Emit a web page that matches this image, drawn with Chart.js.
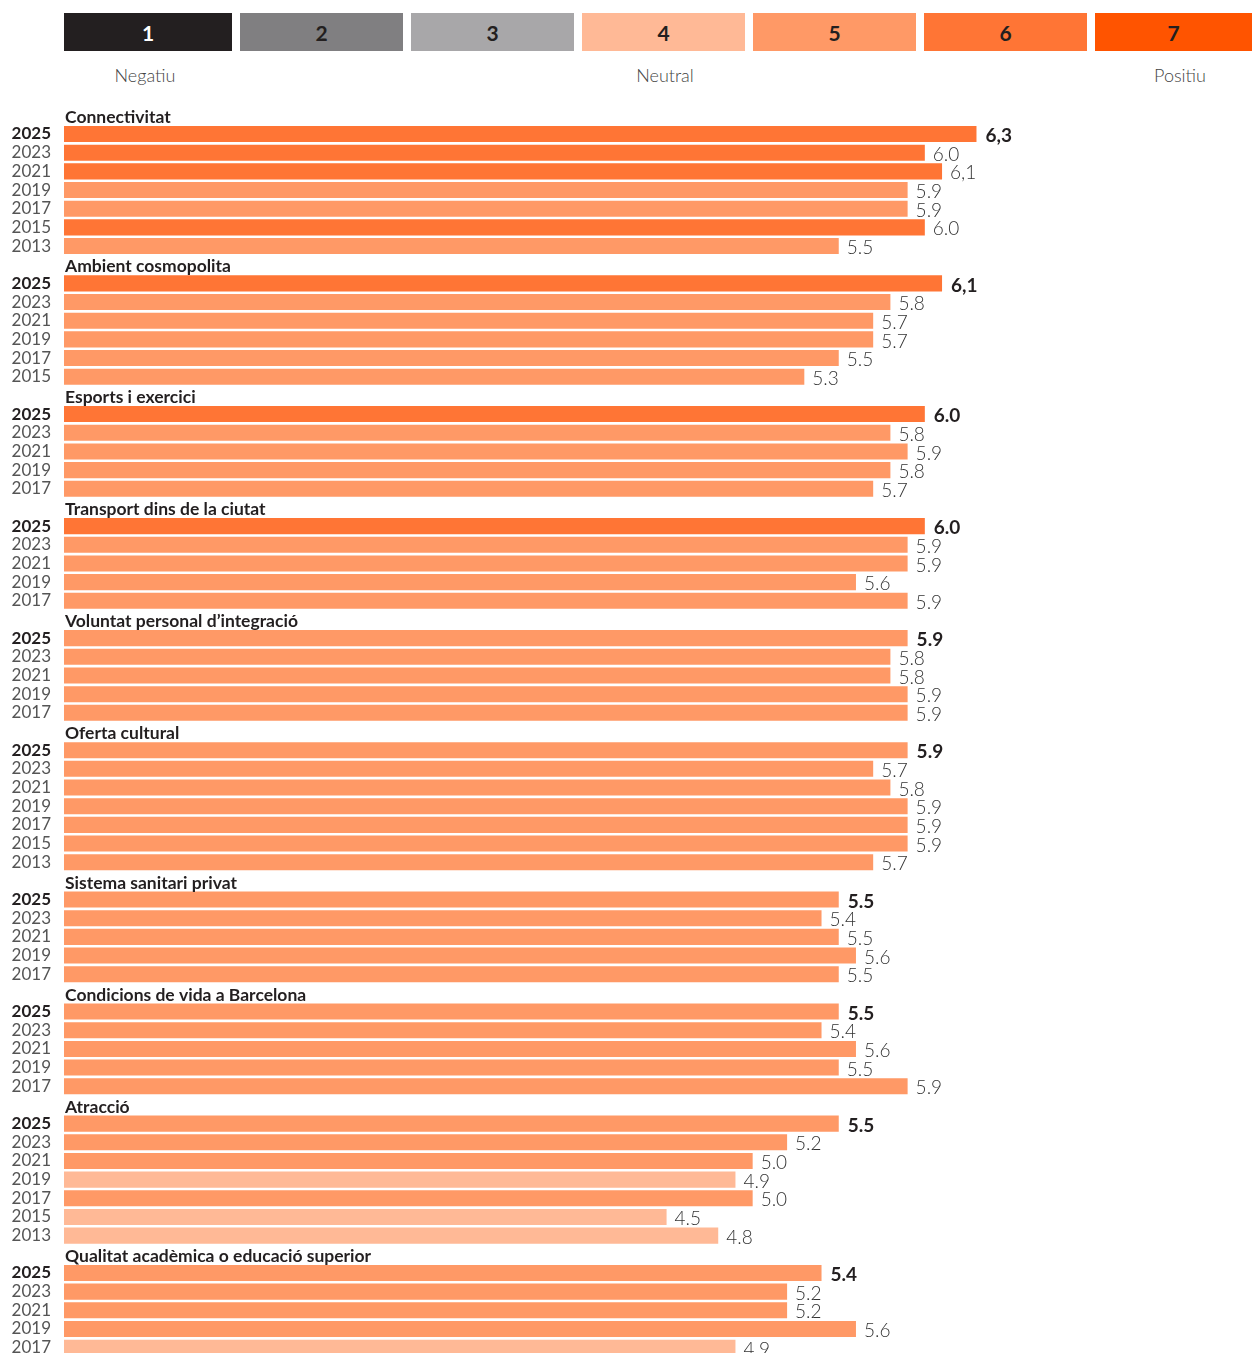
<!DOCTYPE html>
<html>
<head>
<meta charset="utf-8">
<script src="https://cdn.jsdelivr.net/npm/chart.js@4.4.1/dist/chart.umd.min.js"></script>
<style>
  html, body { margin: 0; padding: 0; background: #fff; overflow: hidden; }
  body { width: 1252px; height: 1353px; position: relative; font-family: Lato, "Noto Sans", sans-serif; }
  .scale { position: absolute; top: 13px; height: 38px; display: flex; align-items: center; justify-content: center;
           font-weight: 700; font-size: 21px; color: #231f20; }
  .pole { position: absolute; top: 64px; font-size: 18px; font-weight: 300; color: #444; transform: translateX(-50%); }
  #wrap { position: absolute; left: 0; top: 100px; width: 1252px; height: 1257px; }
</style>
</head>
<body>
<div id="legend"></div>
<div id="wrap"><canvas id="chart"></canvas></div>
<script>
// scale legend
const scaleSteps = ['1', '2', '3', '4', '5', '6', '7'];
const scaleColors = ['#231f20', '#807f81', '#a8a7a9', '#ffb996', '#ff9966', '#ff7535', '#ff5400'];
const scaleTextColors = ['#fff', '#231f20', '#231f20', '#231f20', '#231f20', '#231f20', '#231f20'];
const scaleLefts = [64, 240, 411, 582, 753, 924, 1095];
const scaleWidths = [168, 163, 163, 163, 163, 163, 157];
const poleLabels = ['Negatiu', 'Neutral', 'Positiu'];
const poleCenters = [145, 665, 1180];

// chart data
const groups = [
    'Connectivitat',
    'Ambient cosmopolita',
    'Esports i exercici',
    'Transport dins de la ciutat',
    'Voluntat personal d\u2019integraci\u00f3',
    'Oferta cultural',
    'Sistema sanitari privat',
    'Condicions de vida a Barcelona',
    'Atracci\u00f3',
    'Qualitat acad\u00e8mica o educaci\u00f3 superior'
];
const groupYears = [
    ['2025', '2023', '2021', '2019', '2017', '2015', '2013'],
    ['2025', '2023', '2021', '2019', '2017', '2015'],
    ['2025', '2023', '2021', '2019', '2017'],
    ['2025', '2023', '2021', '2019', '2017'],
    ['2025', '2023', '2021', '2019', '2017'],
    ['2025', '2023', '2021', '2019', '2017', '2015', '2013'],
    ['2025', '2023', '2021', '2019', '2017'],
    ['2025', '2023', '2021', '2019', '2017'],
    ['2025', '2023', '2021', '2019', '2017', '2015', '2013'],
    ['2025', '2023', '2021', '2019', '2017']
];
const groupValues = [
    [6.3, 6.0, 6.1, 5.9, 5.9, 6.0, 5.5],
    [6.1, 5.8, 5.7, 5.7, 5.5, 5.3],
    [6.0, 5.8, 5.9, 5.8, 5.7],
    [6.0, 5.9, 5.9, 5.6, 5.9],
    [5.9, 5.8, 5.8, 5.9, 5.9],
    [5.9, 5.7, 5.8, 5.9, 5.9, 5.9, 5.7],
    [5.5, 5.4, 5.5, 5.6, 5.5],
    [5.5, 5.4, 5.6, 5.5, 5.9],
    [5.5, 5.2, 5.0, 4.9, 5.0, 4.5, 4.8],
    [5.4, 5.2, 5.2, 5.6, 4.9]
];
// labels printed with a decimal comma in the original: [group, row]
const commaLabels = [[0, 0], [0, 2], [1, 0]];

// build the legend
const legend = document.getElementById('legend');
scaleSteps.forEach((s, i) => {
    const d = document.createElement('div');
    d.className = 'scale';
    d.style.left = scaleLefts[i] + 'px';
    d.style.width = scaleWidths[i] + 'px';
    d.style.background = scaleColors[i];
    d.style.color = scaleTextColors[i];
    d.textContent = s;
    legend.appendChild(d);
});
poleLabels.forEach((p, i) => {
    const d = document.createElement('div');
    d.className = 'pole';
    d.style.left = poleCenters[i] + 'px';
    d.textContent = p;
    legend.appendChild(d);
});

// flatten groups into rows: a title row then one row per year
const rows = [];
groups.forEach((g, gi) => {
    rows.push({ title: g, value: null });
    groupYears[gi].forEach((y, yi) => {
        const comma = commaLabels.some(c => c[0] === gi && c[1] === yi);
        const v = groupValues[gi][yi];
        rows.push({
            year: y,
            value: v,
            text: comma ? v.toFixed(1).replace('.', ',') : v.toFixed(1)
        });
    });
});

function barColor(v) {
    if (v >= 5.95) return scaleColors[5];
    if (v >= 4.95) return scaleColors[4];
    return scaleColors[3];
}

const rowLabels = {
    id: 'rowLabels',
    afterDatasetsDraw(chart) {
        const ctx = chart.ctx;
        const y = chart.scales.y;
        const meta = chart.getDatasetMeta(0);
        ctx.save();
        ctx.textBaseline = 'middle';
        rows.forEach((r, i) => {
            const py = y.getPixelForValue(i);
            if (r.title) {
                ctx.font = '700 17.5px Lato, "Noto Sans", sans-serif';
                ctx.fillStyle = '#231f20';
                ctx.textAlign = 'left';
                ctx.fillText(r.title, 65, py + 2);
                return;
            }
            const bold = r.year === '2025';
            ctx.textAlign = 'right';
            ctx.font = (bold ? '700' : '400') + ' 17px Lato, "Noto Sans", sans-serif';
            ctx.fillStyle = bold ? '#231f20' : '#555';
            ctx.fillText(r.year, 51, py);
            const bar = meta.data[i];
            ctx.textAlign = 'left';
            ctx.font = (bold ? '700' : '300') + ' 19px Lato, "Noto Sans", sans-serif';
            ctx.fillStyle = bold ? '#231f20' : '#333';
            ctx.fillText(r.text, bar.x + (bold ? 9 : 8), py + 2);
        });
        ctx.restore();
    }
};

new Chart(document.getElementById('chart'), {
    type: 'bar',
    data: {
        labels: rows.map(r => r.title || r.year),
        datasets: [{
            data: rows.map(r => r.value),
            backgroundColor: rows.map(r => r.value === null ? 'transparent' : barColor(r.value)),
            borderWidth: 0,
            barPercentage: 0.86,
            categoryPercentage: 1
        }]
    },
    options: {
        indexAxis: 'y',
        responsive: true,
        maintainAspectRatio: false,
        animation: false,
        layout: { padding: { left: 64, right: 155, top: 6, bottom: 0 } },
        plugins: { legend: { display: false }, tooltip: { enabled: false } },
        scales: {
            x: { min: 1, max: 7, display: false },
            y: { display: false, grid: { display: false } }
        }
    },
    plugins: [rowLabels]
});
</script>
</body>
</html>
